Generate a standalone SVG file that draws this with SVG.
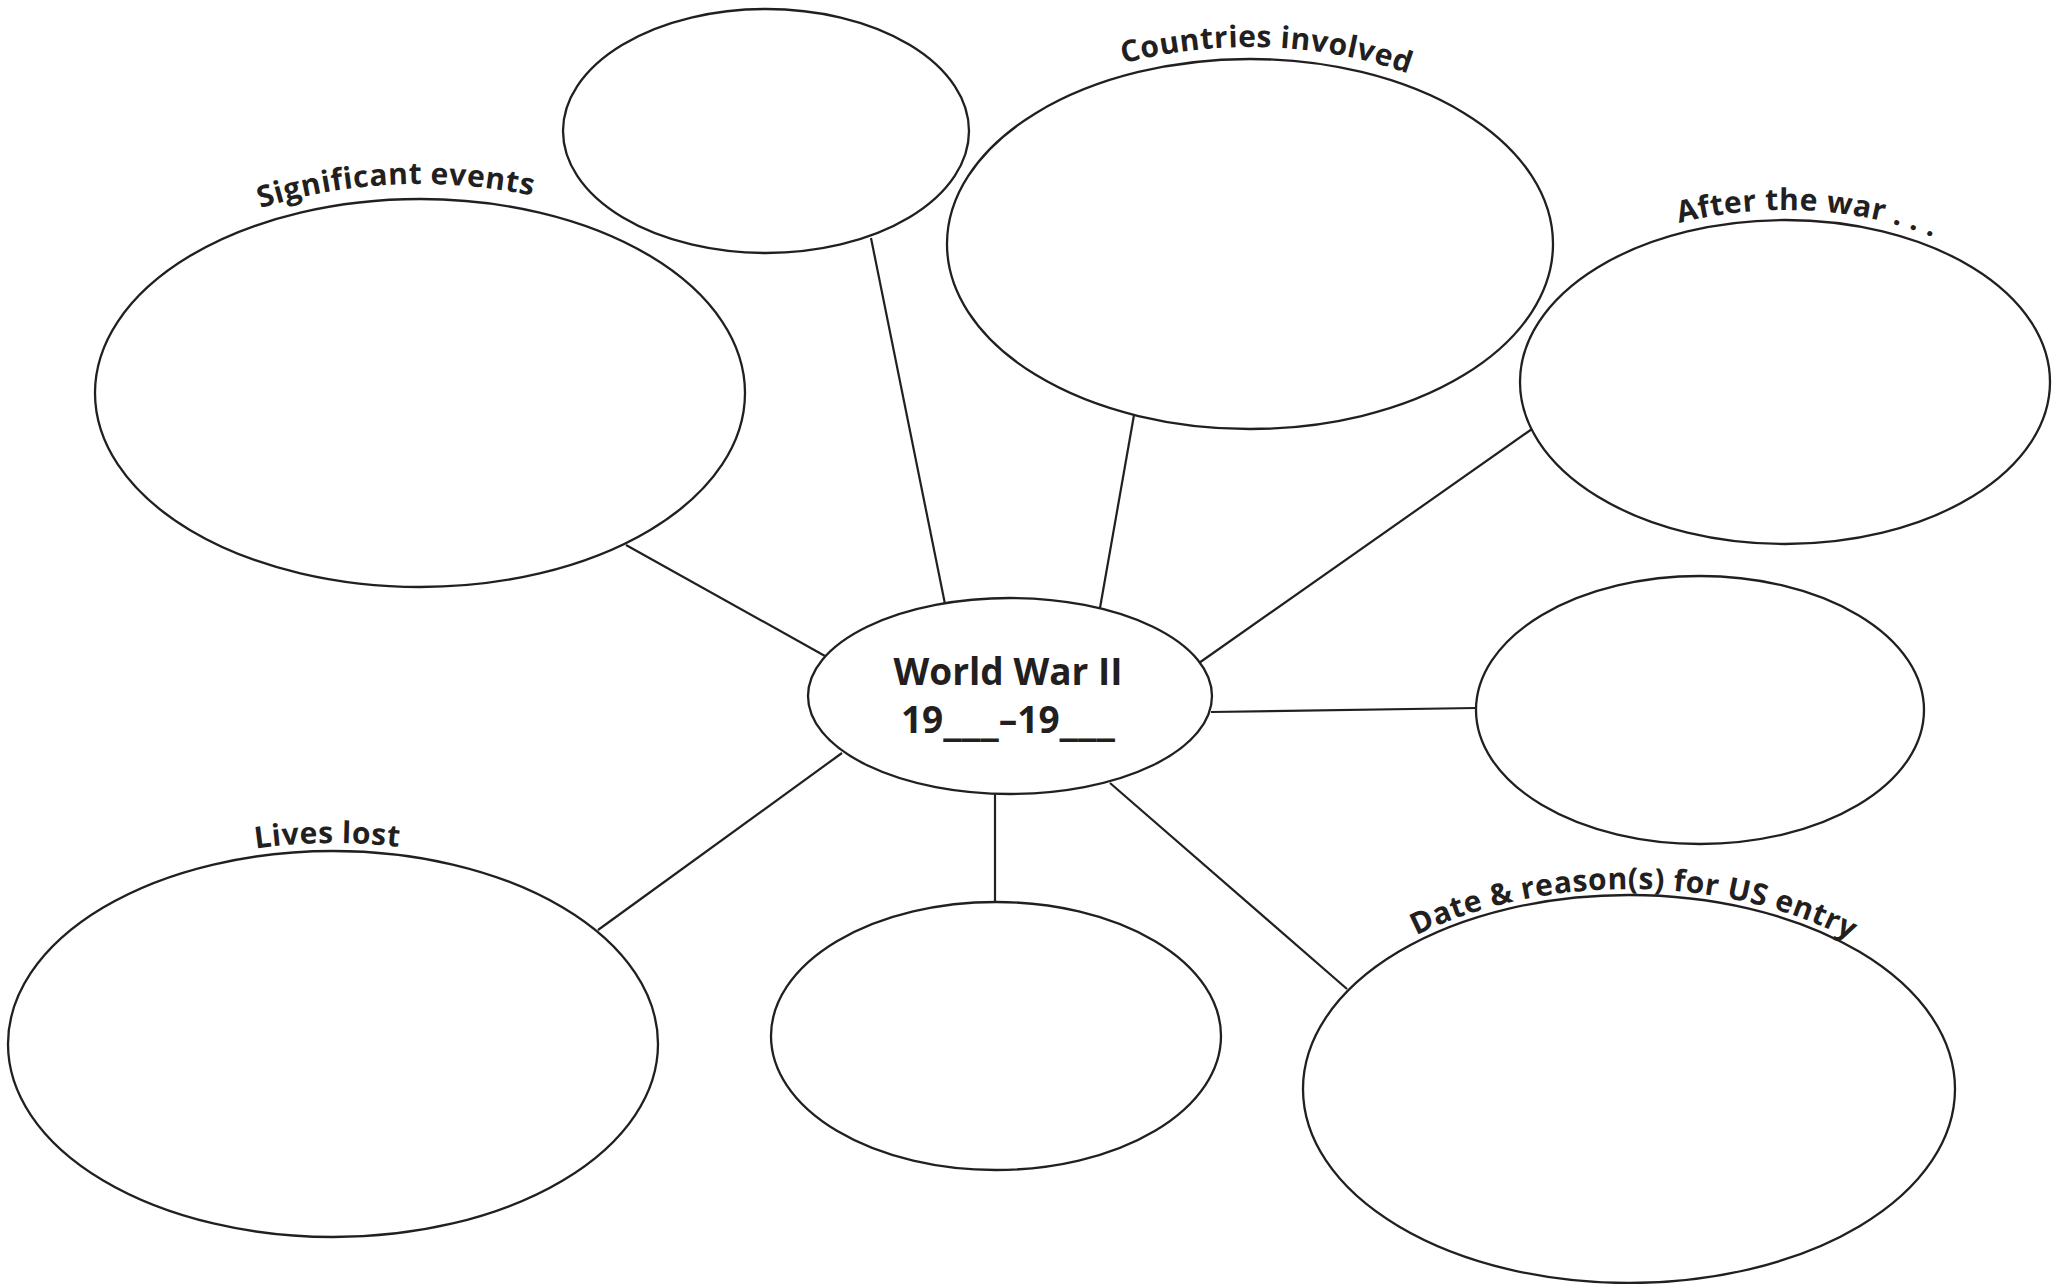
<svg xmlns="http://www.w3.org/2000/svg" width="2053" height="1284" viewBox="0 0 2053 1284">
<style>
.n{fill:#fff;stroke:#231f20;stroke-width:2.3}
.c line{stroke:#231f20;stroke-width:2.2}
.lbl{font-family:"Open Sans",Lato,sans-serif;font-weight:700;font-size:30px;letter-spacing:0.5px;fill:#231f20}
.ctr{font-family:"Open Sans",Lato,sans-serif;font-weight:700;font-size:37px;fill:#231f20}
.u{font-family:"DejaVu Sans",sans-serif;font-weight:700}
</style>
<defs>
<path id="pSig" d="M80,393 A340,209 0 0 1 760,393"/>
<path id="pCou" d="M935,244 A315,197 0 0 1 1565,244"/>
<path id="pAft" d="M1510,382 A275,172 0 0 1 2060,382"/>
<path id="pLiv" d="M0,1044 A333,201 0 0 1 666,1044"/>
<path id="pDat" d="M1297,1089 A332,200 0 0 1 1961,1089"/>
</defs>
<rect width="2053" height="1284" fill="#fff"/>
<g class="c" id="connectors">
<line x1="626" y1="545" x2="825" y2="656"/>
<line x1="871" y1="238" x2="945" y2="604"/>
<line x1="1134" y1="415" x2="1100" y2="608"/>
<line x1="1532" y1="429" x2="1199" y2="663"/>
<line x1="1476" y1="708" x2="1211" y2="712"/>
<line x1="1347" y1="989" x2="1110" y2="783"/>
<line x1="995" y1="902" x2="995" y2="793"/>
<line x1="598" y1="930" x2="842" y2="753"/>
</g>
<g id="n-top"><ellipse class="n" cx="766" cy="131" rx="203" ry="122"/></g>
<g id="n-countries"><ellipse class="n" cx="1250" cy="244" rx="303" ry="185"/>
<text class="lbl"><textPath href="#pCou" startOffset="424" text-anchor="middle">Countries involved</textPath></text></g>
<g id="n-significant"><ellipse class="n" cx="420" cy="393" rx="325" ry="194"/>
<text class="lbl"><textPath href="#pSig" startOffset="413" text-anchor="middle">Significant events</textPath></text></g>
<g id="n-after"><ellipse class="n" cx="1785" cy="382" rx="265" ry="162"/>
<text class="lbl"><textPath href="#pAft" startOffset="378" text-anchor="middle">After the war . . .</textPath></text></g>
<g id="n-right"><ellipse class="n" cx="1700" cy="710" rx="224" ry="134"/></g>
<g id="n-lives"><ellipse class="n" cx="333" cy="1044" rx="325" ry="193"/>
<text class="lbl"><textPath href="#pLiv" startOffset="420" text-anchor="middle">Lives lost</textPath></text></g>
<g id="n-bottom"><ellipse class="n" cx="996" cy="1036" rx="225" ry="134"/></g>
<g id="n-date"><ellipse class="n" cx="1629" cy="1089" rx="326" ry="194"/>
<text class="lbl"><textPath href="#pDat" startOffset="429" text-anchor="middle">Date &amp; reason(s) for US entry</textPath></text></g>
<g id="n-center"><ellipse class="n" cx="1010" cy="696" rx="202" ry="98"/>
<text class="ctr" x="1008" y="685" text-anchor="middle">World War II</text>
<text class="ctr" x="1008" y="733" text-anchor="middle">19<tspan class="u">___</tspan>–19<tspan class="u">___</tspan></text></g>
</svg>
